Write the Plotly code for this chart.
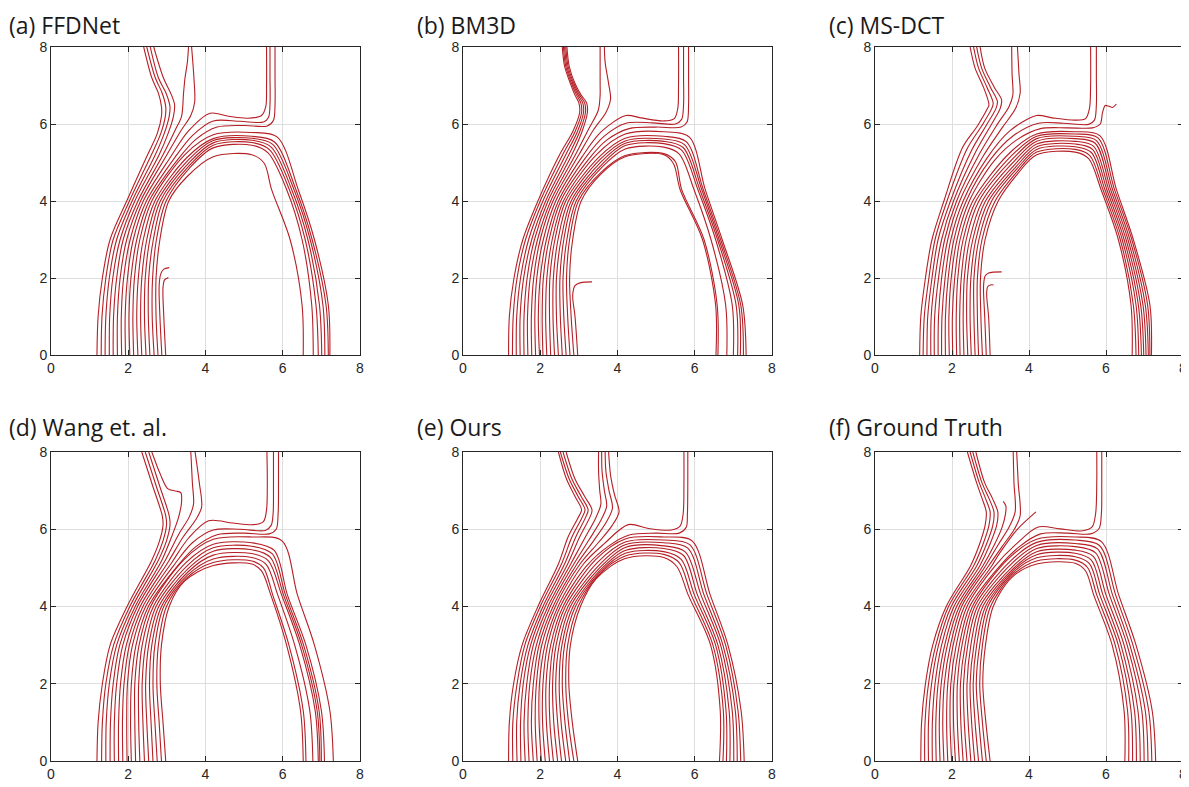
import plotly.graph_objects as go

# ---------------------------------------------------------------- data
# Every streamline starts at the bottom-left leg: x read at y = 0, 1, 2, 3, 4
LEG_Y = [0, 1, 2, 3, 4]
# Arch rows: [shoulder x, shoulder y, y at x=4.2, y at x=5.2, right-corner x, right-corner y,
#             x at y=4.3, x at y=3.0, x at y=1.3, x at y=0]

# (a) FFDNet
a_legs = [
    [2.77, 2.72, 2.72, 2.82, 3.05], [2.67, 2.62, 2.63, 2.73, 2.98], [2.56, 2.52, 2.53, 2.65, 2.90],
    [2.46, 2.42, 2.44, 2.56, 2.83], [2.35, 2.32, 2.35, 2.48, 2.76], [2.25, 2.22, 2.26, 2.39, 2.69],
    [2.14, 2.12, 2.16, 2.30, 2.61], [2.04, 2.02, 2.07, 2.22, 2.54], [1.93, 1.92, 1.98, 2.13, 2.47],
    [1.83, 1.82, 1.88, 2.05, 2.39], [1.72, 1.72, 1.79, 1.96, 2.32], [1.61, 1.62, 1.70, 1.87, 2.25],
    [1.51, 1.52, 1.60, 1.79, 2.17], [1.40, 1.42, 1.51, 1.70, 2.10], [1.30, 1.32, 1.42, 1.61, 2.03],
    [1.19, 1.22, 1.33, 1.53, 1.96],
]
a_arches = [
    [3.52, 4.63, 5.15, 5.20, 5.52, 4.98, 5.71, 6.19, 6.50, 6.53],
    [3.58, 4.85, 5.38, 5.45, 5.62, 5.25, 6.10, 6.50, 6.75, 6.79],
    [3.58, 4.92, 5.45, 5.52, 5.66, 5.33, 6.17, 6.58, 6.86, 6.92],
    [3.57, 4.99, 5.51, 5.58, 5.70, 5.40, 6.23, 6.65, 6.95, 7.01],
    [3.55, 5.06, 5.57, 5.63, 5.74, 5.47, 6.29, 6.71, 7.04, 7.09],
    [3.52, 5.13, 5.62, 5.68, 5.78, 5.54, 6.34, 6.76, 7.12, 7.18],
    [3.48, 5.22, 5.72, 5.78, 5.86, 5.66, 6.40, 6.82, 7.18, 7.22],
]
a_uppers = [
    [(3.3, 5.1), (3.75, 5.6), (4.3, 5.92), (5.0, 5.96), (5.6, 5.95), (5.76, 6.1), (5.8, 6.5), (5.8, 7.2), (5.8, 8)],
    [(3.2, 5.12), (3.66, 5.7), (4.2, 6.08), (4.9, 6.07), (5.5, 6.05), (5.63, 6.17), (5.67, 6.5), (5.67, 7.2), (5.67, 8)],
    [(3.1, 5.15), (3.56, 5.82), (4.12, 6.28), (4.6, 6.2), (5.1, 6.15), (5.45, 6.22), (5.56, 6.45), (5.58, 7.0), (5.58, 8)],
    [(3.0, 5.2), (3.36, 5.82), (3.62, 6.22), (3.72, 6.57), (3.70, 7.2), (3.64, 8)],
    [(2.9, 5.2), (3.22, 5.85), (3.38, 6.2), (3.43, 6.78), (3.47, 7.2), (3.53, 7.6), (3.56, 8)],
    [(2.8, 5.2), (3.03, 5.75), (3.17, 6.2), (3.2, 6.5), (3.12, 6.75), (2.91, 7.2), (2.66, 8)],
    [(2.7, 5.2), (2.93, 5.75), (3.06, 6.2), (3.08, 6.45), (2.98, 6.8), (2.78, 7.2), (2.57, 8)],
    [(2.6, 5.2), (2.84, 5.75), (2.96, 6.2), (2.97, 6.45), (2.88, 6.8), (2.70, 7.2), (2.48, 8)],
    [(2.5, 5.2), (2.75, 5.75), (2.86, 6.2), (2.86, 6.45), (2.78, 6.8), (2.61, 7.2), (2.40, 8)],
]
a_extras = [
    [(2.97, 0), (2.92, 1.0), (2.9, 1.75), (2.94, 1.95), (3.04, 2.01)],
    [(2.87, 0), (2.82, 1.0), (2.8, 1.8), (2.84, 2.1), (2.92, 2.23), (3.06, 2.27)],
]

# (b) BM3D
b_legs = [
    [2.87, 2.80, 2.76, 2.84, 3.06], [2.77, 2.71, 2.68, 2.76, 2.99], [2.67, 2.61, 2.59, 2.69, 2.93],
    [2.57, 2.52, 2.51, 2.61, 2.86], [2.47, 2.42, 2.42, 2.54, 2.80], [2.37, 2.33, 2.34, 2.46, 2.73],
    [2.27, 2.24, 2.25, 2.38, 2.66], [2.17, 2.14, 2.17, 2.31, 2.60], [2.07, 2.05, 2.08, 2.23, 2.53],
    [1.98, 1.95, 2.00, 2.16, 2.47], [1.88, 1.86, 1.91, 2.08, 2.40], [1.78, 1.77, 1.83, 2.00, 2.33],
    [1.68, 1.67, 1.74, 1.93, 2.27], [1.58, 1.58, 1.66, 1.85, 2.20], [1.48, 1.48, 1.57, 1.78, 2.14],
    [1.38, 1.39, 1.49, 1.70, 2.07], [1.28, 1.30, 1.40, 1.62, 2.00], [1.18, 1.20, 1.32, 1.55, 1.94],
]
b_arches = [
    [3.55, 4.68, 5.15, 5.20, 5.45, 4.97, 5.62, 6.20, 6.54, 6.55],
    [3.58, 4.75, 5.18, 5.23, 5.50, 5.02, 5.66, 6.24, 6.58, 6.60],
    [3.60, 4.88, 5.35, 5.40, 5.60, 5.22, 5.98, 6.42, 6.80, 6.83],
    [3.60, 4.95, 5.44, 5.49, 5.66, 5.32, 6.08, 6.54, 6.97, 7.00],
    [3.58, 5.02, 5.50, 5.55, 5.70, 5.39, 6.13, 6.59, 7.07, 7.11],
    [3.55, 5.08, 5.56, 5.61, 5.74, 5.46, 6.18, 6.63, 7.14, 7.18],
    [3.52, 5.14, 5.63, 5.68, 5.78, 5.54, 6.22, 6.67, 7.19, 7.26],
    [3.47, 5.22, 5.74, 5.80, 5.86, 5.66, 6.27, 6.71, 7.24, 7.33],
]
b_uppers = [
    [(3.25, 5.08), (3.72, 5.58), (4.3, 5.88), (5.0, 5.92), (5.65, 5.92), (5.8, 6.05), (5.84, 6.5), (5.84, 7.2), (5.84, 8)],
    [(3.17, 5.12), (3.65, 5.68), (4.22, 6.02), (4.9, 6.03), (5.5, 6.0), (5.66, 6.12), (5.71, 6.5), (5.71, 7.2), (5.71, 8)],
    [(3.09, 5.16), (3.58, 5.8), (4.22, 6.22), (4.6, 6.16), (5.2, 6.08), (5.47, 6.14), (5.56, 6.4), (5.58, 7.0), (5.58, 8)],
    [(3.0, 5.2), (3.38, 5.85), (3.7, 6.3), (3.82, 6.65), (3.77, 7.05), (3.68, 7.6), (3.66, 8)],
    [(2.91, 5.2), (3.27, 5.9), (3.5, 6.35), (3.55, 6.75), (3.55, 7.05), (3.55, 8)],
    [(2.82, 5.2), (3.08, 5.8), (3.22, 6.3), (3.2, 6.55), (3.06, 6.75), (2.9, 7.05), (2.75, 7.5), (2.69, 8)],
    [(2.74, 5.2), (3.02, 5.8), (3.17, 6.3), (3.15, 6.55), (3.02, 6.75), (2.87, 7.05), (2.72, 7.5), (2.66, 8)],
    [(2.66, 5.2), (2.96, 5.8), (3.12, 6.3), (3.1, 6.55), (2.98, 6.75), (2.84, 7.05), (2.69, 7.5), (2.63, 8)],
    [(2.58, 5.2), (2.90, 5.8), (3.07, 6.3), (3.05, 6.55), (2.94, 6.75), (2.81, 7.05), (2.66, 7.5), (2.60, 8)],
    [(2.50, 5.2), (2.84, 5.8), (3.02, 6.3), (3.0, 6.55), (2.90, 6.75), (2.78, 7.05), (2.63, 7.5), (2.57, 8)],
]
b_extras = [
    [(2.97, 0), (2.9, 1.0), (2.84, 1.55), (2.9, 1.8), (3.05, 1.88), (3.34, 1.9)],
]

# (c) MS-DCT
c_legs = [
    [2.79, 2.75, 2.74, 2.86, 3.20], [2.69, 2.66, 2.66, 2.78, 3.12], [2.60, 2.57, 2.57, 2.70, 3.03],
    [2.50, 2.47, 2.49, 2.62, 2.95], [2.41, 2.38, 2.40, 2.54, 2.87], [2.31, 2.29, 2.32, 2.46, 2.79],
    [2.21, 2.20, 2.24, 2.37, 2.70], [2.12, 2.11, 2.15, 2.29, 2.62], [2.02, 2.01, 2.07, 2.21, 2.54],
    [1.93, 1.92, 1.98, 2.13, 2.45], [1.83, 1.83, 1.90, 2.05, 2.37], [1.73, 1.74, 1.82, 1.97, 2.29],
    [1.64, 1.65, 1.73, 1.89, 2.20], [1.54, 1.55, 1.65, 1.81, 2.12], [1.45, 1.46, 1.56, 1.73, 2.04],
    [1.35, 1.37, 1.48, 1.64, 1.96], [1.25, 1.28, 1.40, 1.56, 1.87], [1.16, 1.19, 1.31, 1.48, 1.79],
]
c_arches = [
    [3.70, 4.70, 5.20, 5.27, 5.55, 5.10, 5.87, 6.32, 6.65, 6.68],
    [3.70, 4.77, 5.27, 5.34, 5.58, 5.18, 5.92, 6.37, 6.71, 6.78],
    [3.69, 4.84, 5.34, 5.41, 5.62, 5.26, 5.97, 6.42, 6.78, 6.85],
    [3.68, 4.91, 5.41, 5.48, 5.65, 5.34, 6.02, 6.47, 6.84, 6.92],
    [3.66, 4.98, 5.48, 5.55, 5.68, 5.42, 6.07, 6.52, 6.90, 6.98],
    [3.63, 5.05, 5.55, 5.62, 5.72, 5.50, 6.12, 6.57, 6.96, 7.04],
    [3.60, 5.12, 5.62, 5.68, 5.75, 5.57, 6.17, 6.62, 7.02, 7.10],
    [3.56, 5.19, 5.68, 5.74, 5.79, 5.64, 6.22, 6.67, 7.08, 7.14],
    [3.51, 5.26, 5.74, 5.80, 5.84, 5.70, 6.27, 6.71, 7.14, 7.18],
]
c_uppers = [
    [(3.1, 5.05), (3.7, 5.6), (4.3, 5.88), (5.0, 5.9), (5.65, 5.9), (5.85, 6.0), (5.91, 6.3), (5.98, 6.48),
     (6.08, 6.46), (6.17, 6.43), (6.27, 6.52)],
    [(3.0, 5.08), (3.6, 5.7), (4.25, 6.02), (4.9, 6.02), (5.55, 5.99), (5.7, 6.1), (5.75, 6.5), (5.75, 7.2), (5.75, 8)],
    [(2.9, 5.1), (3.5, 5.82), (4.2, 6.22), (4.6, 6.16), (5.2, 6.1), (5.47, 6.14), (5.57, 6.4), (5.6, 7.0), (5.6, 8)],
    [(2.8, 5.15), (3.3, 5.9), (3.65, 6.4), (3.77, 6.8), (3.74, 7.3), (3.70, 8)],
    [(2.7, 5.2), (3.15, 5.95), (3.48, 6.45), (3.58, 6.75), (3.56, 7.3), (3.55, 8)],
    [(2.6, 5.25), (3.0, 5.95), (3.25, 6.4), (3.29, 6.62), (3.1, 6.95), (2.85, 7.45), (2.73, 8)],
    [(2.5, 5.3), (2.88, 5.95), (3.14, 6.4), (3.18, 6.58), (3.0, 6.95), (2.77, 7.45), (2.64, 8)],
    [(2.39, 5.35), (2.77, 5.95), (3.03, 6.4), (3.07, 6.54), (2.91, 6.95), (2.69, 7.45), (2.56, 8)],
    [(2.28, 5.4), (2.66, 5.95), (2.92, 6.4), (2.96, 6.5), (2.82, 6.95), (2.60, 7.45), (2.47, 8)],
]
c_extras = [
    [(2.99, 0), (2.95, 1.0), (2.9, 1.6), (2.93, 1.78), (3.0, 1.82), (3.08, 1.82)],
    [(2.89, 0), (2.85, 1.0), (2.82, 1.8), (2.86, 2.05), (2.95, 2.13), (3.29, 2.16)],
]

# (d) Wang et. al.
d_legs = [
    [2.97, 2.90, 2.83, 2.86, 3.06], [2.86, 2.80, 2.74, 2.78, 2.99], [2.75, 2.69, 2.64, 2.69, 2.92],
    [2.64, 2.59, 2.55, 2.61, 2.86], [2.53, 2.48, 2.45, 2.53, 2.79], [2.42, 2.38, 2.36, 2.45, 2.72],
    [2.30, 2.27, 2.27, 2.36, 2.65], [2.19, 2.17, 2.17, 2.28, 2.58], [2.08, 2.06, 2.08, 2.20, 2.52],
    [1.97, 1.96, 1.98, 2.11, 2.45], [1.86, 1.85, 1.89, 2.03, 2.38], [1.75, 1.75, 1.80, 1.95, 2.31],
    [1.64, 1.64, 1.70, 1.86, 2.24], [1.53, 1.54, 1.61, 1.78, 2.18], [1.42, 1.43, 1.51, 1.70, 2.11],
    [1.31, 1.33, 1.42, 1.62, 2.04], [1.19, 1.22, 1.33, 1.53, 1.97],
]
d_arches = [
    [3.45, 4.65, 5.06, 5.10, 5.45, 4.92, 5.69, 6.10, 6.46, 6.53],
    [3.50, 4.73, 5.14, 5.18, 5.50, 5.00, 5.74, 6.16, 6.53, 6.60],
    [3.53, 4.81, 5.23, 5.27, 5.57, 5.09, 5.87, 6.31, 6.70, 6.78],
    [3.55, 4.90, 5.33, 5.37, 5.63, 5.18, 5.97, 6.44, 6.84, 6.92],
    [3.55, 4.98, 5.43, 5.47, 5.68, 5.27, 6.02, 6.49, 6.89, 6.96],
    [3.53, 5.06, 5.52, 5.56, 5.73, 5.36, 6.07, 6.54, 6.94, 7.00],
    [3.50, 5.14, 5.61, 5.65, 5.78, 5.45, 6.12, 6.60, 7.00, 7.08],
    [3.45, 5.22, 5.74, 5.80, 5.98, 5.70, 6.38, 6.82, 7.22, 7.31],
]
d_uppers = [
    [(3.3, 5.08), (3.75, 5.55), (4.3, 5.86), (5.0, 5.9), (5.65, 5.88), (5.83, 6.0), (5.88, 6.4), (5.89, 7.2), (5.89, 8)],
    [(3.22, 5.12), (3.66, 5.65), (4.2, 5.98), (4.9, 6.0), (5.55, 5.97), (5.7, 6.1), (5.75, 6.4), (5.76, 7.2), (5.76, 8)],
    [(3.14, 5.16), (3.57, 5.78), (4.08, 6.22), (4.7, 6.16), (5.25, 6.12), (5.5, 6.2), (5.58, 6.5), (5.6, 7.2), (5.59, 8)],
    [(3.05, 5.18), (3.42, 5.8), (3.75, 6.25), (3.9, 6.58), (3.84, 7.2), (3.73, 8)],
    [(2.96, 5.2), (3.3, 5.86), (3.58, 6.32), (3.69, 6.65), (3.66, 7.2), (3.62, 8)],
    [(2.87, 5.2), (3.14, 5.85), (3.3, 6.3), (3.38, 6.7), (3.36, 6.95), (3.22, 6.99), (3.02, 7.05), (2.82, 7.45), (2.61, 8)],
    [(2.78, 5.2), (2.99, 5.7), (3.08, 6.1), (3.06, 6.35), (2.82, 7.1), (2.53, 8)],
    [(2.70, 5.2), (2.9, 5.7), (2.99, 6.1), (2.97, 6.35), (2.73, 7.1), (2.44, 8)],
    [(2.61, 5.2), (2.81, 5.7), (2.9, 6.1), (2.88, 6.35), (2.64, 7.1), (2.35, 8)],
]
d_extras = []

# (e) Ours
e_legs = [
    [2.97, 2.83, 2.74, 2.78, 3.04], [2.87, 2.73, 2.66, 2.71, 2.98], [2.76, 2.64, 2.57, 2.63, 2.91],
    [2.66, 2.54, 2.49, 2.56, 2.85], [2.55, 2.45, 2.40, 2.49, 2.78], [2.45, 2.35, 2.32, 2.41, 2.72],
    [2.34, 2.25, 2.24, 2.34, 2.65], [2.24, 2.16, 2.15, 2.27, 2.59], [2.13, 2.06, 2.07, 2.19, 2.52],
    [2.03, 1.97, 1.98, 2.12, 2.46], [1.92, 1.87, 1.90, 2.04, 2.39], [1.82, 1.77, 1.82, 1.97, 2.33],
    [1.71, 1.68, 1.73, 1.90, 2.26], [1.61, 1.58, 1.65, 1.82, 2.20], [1.50, 1.49, 1.56, 1.75, 2.13],
    [1.40, 1.39, 1.48, 1.68, 2.07], [1.29, 1.29, 1.40, 1.60, 2.00], [1.18, 1.20, 1.31, 1.53, 1.94],
]
e_arches = [
    [3.45, 4.72, 5.24, 5.27, 5.54, 5.03, 5.83, 6.41, 6.66, 6.64],
    [3.50, 4.80, 5.31, 5.35, 5.60, 5.13, 5.91, 6.47, 6.74, 6.73],
    [3.53, 4.87, 5.38, 5.42, 5.65, 5.22, 5.99, 6.54, 6.81, 6.82],
    [3.55, 4.94, 5.45, 5.50, 5.71, 5.32, 6.07, 6.60, 6.89, 6.91],
    [3.55, 5.01, 5.53, 5.57, 5.76, 5.41, 6.16, 6.67, 6.97, 7.01],
    [3.53, 5.08, 5.60, 5.65, 5.82, 5.51, 6.24, 6.73, 7.05, 7.10],
    [3.49, 5.15, 5.67, 5.72, 5.87, 5.60, 6.32, 6.80, 7.12, 7.19],
    [3.44, 5.22, 5.75, 5.80, 5.93, 5.70, 6.40, 6.86, 7.20, 7.28],
]
e_uppers = [
    [(3.2, 5.05), (3.75, 5.55), (4.3, 5.85), (5.0, 5.9), (5.6, 5.9), (5.78, 6.05), (5.81, 6.4), (5.82, 7.2), (5.82, 8)],
    [(3.12, 5.1), (3.65, 5.62), (4.28, 6.12), (4.8, 6.02), (5.4, 5.98), (5.62, 6.08), (5.70, 6.4), (5.72, 7.2), (5.72, 8)],
    [(3.03, 5.1), (3.5, 5.65), (3.85, 6.08), (4.04, 6.45), (3.92, 6.9), (3.82, 7.4), (3.77, 8)],
    [(2.95, 5.1), (3.38, 5.7), (3.72, 6.2), (3.87, 6.55), (3.78, 7.0), (3.70, 7.5), (3.68, 8)],
    [(2.87, 5.1), (3.26, 5.72), (3.58, 6.25), (3.72, 6.6), (3.66, 7.0), (3.6, 7.5), (3.59, 8)],
    [(2.79, 5.1), (3.14, 5.75), (3.44, 6.3), (3.57, 6.65), (3.54, 7.0), (3.51, 7.5), (3.51, 8)],
    [(2.71, 5.1), (3.02, 5.8), (3.28, 6.3), (3.34, 6.5), (3.15, 6.85), (2.9, 7.3), (2.67, 8)],
    [(2.63, 5.1), (2.92, 5.8), (3.17, 6.3), (3.24, 6.5), (3.06, 6.85), (2.82, 7.3), (2.59, 8)],
    [(2.55, 5.1), (2.82, 5.8), (3.08, 6.3), (3.16, 6.5), (2.98, 6.85), (2.75, 7.3), (2.52, 8)],
    [(2.47, 5.1), (2.72, 5.8), (2.98, 6.3), (3.07, 6.5), (2.90, 6.85), (2.68, 7.3), (2.47, 8)],
]
e_extras = []

# (f) Ground Truth
f_legs = [
    [2.99, 2.88, 2.80, 2.87, 3.07], [2.89, 2.79, 2.72, 2.79, 3.00], [2.79, 2.70, 2.63, 2.72, 2.93],
    [2.69, 2.60, 2.55, 2.64, 2.87], [2.59, 2.51, 2.47, 2.57, 2.80], [2.49, 2.42, 2.39, 2.49, 2.73],
    [2.39, 2.32, 2.30, 2.41, 2.66], [2.29, 2.23, 2.22, 2.34, 2.59], [2.19, 2.14, 2.14, 2.26, 2.53],
    [2.09, 2.04, 2.05, 2.19, 2.46], [1.99, 1.95, 1.97, 2.11, 2.39], [1.89, 1.86, 1.89, 2.03, 2.32],
    [1.79, 1.76, 1.80, 1.96, 2.25], [1.69, 1.67, 1.72, 1.88, 2.19], [1.59, 1.58, 1.64, 1.81, 2.12],
    [1.49, 1.49, 1.56, 1.73, 2.05], [1.39, 1.39, 1.47, 1.65, 1.98], [1.29, 1.30, 1.39, 1.58, 1.91],
    [1.19, 1.21, 1.31, 1.50, 1.85],
]
f_arches = [
    [3.55, 4.75, 5.10, 5.12, 5.47, 4.92, 5.68, 6.16, 6.47, 6.49],
    [3.57, 4.81, 5.18, 5.20, 5.52, 5.01, 5.76, 6.24, 6.56, 6.59],
    [3.59, 4.88, 5.26, 5.29, 5.57, 5.11, 5.84, 6.32, 6.65, 6.69],
    [3.60, 4.94, 5.34, 5.38, 5.62, 5.20, 5.92, 6.39, 6.74, 6.79],
    [3.61, 5.00, 5.42, 5.46, 5.67, 5.30, 6.00, 6.47, 6.83, 6.89],
    [3.60, 5.06, 5.50, 5.55, 5.73, 5.39, 6.09, 6.55, 6.93, 6.99],
    [3.57, 5.13, 5.58, 5.63, 5.78, 5.49, 6.17, 6.62, 7.02, 7.09],
    [3.53, 5.19, 5.66, 5.72, 5.83, 5.58, 6.25, 6.70, 7.11, 7.19],
    [3.48, 5.25, 5.74, 5.80, 5.88, 5.68, 6.33, 6.78, 7.20, 7.29],
]
f_uppers = [
    [(3.2, 5.0), (3.75, 5.55), (4.3, 5.88), (5.0, 5.9), (5.6, 5.88), (5.82, 6.02), (5.88, 6.4), (5.89, 7.2), (5.89, 8)],
    [(3.12, 5.05), (3.65, 5.6), (4.24, 6.06), (4.8, 6.01), (5.4, 5.96), (5.64, 6.06), (5.73, 6.4), (5.76, 7.2), (5.76, 8)],
    [(3.03, 5.05), (3.25, 5.4), (3.68, 5.98), (4.18, 6.45)],
    [(2.95, 5.05), (3.3, 5.55), (3.62, 6.0), (3.77, 6.35), (3.72, 7.2), (3.68, 8)],
    [(2.87, 5.05), (3.2, 5.6), (3.48, 6.05), (3.64, 6.45), (3.61, 7.2), (3.59, 8)],
    [(2.8, 5.05), (3.1, 5.6), (3.3, 6.05), (3.39, 6.4), (3.40, 6.6), (3.33, 6.72)],
    [(2.72, 5.05), (2.98, 5.6), (3.16, 6.1), (3.19, 6.45), (3.05, 6.8), (2.85, 7.2), (2.62, 8)],
    [(2.64, 5.05), (2.89, 5.6), (3.06, 6.1), (3.09, 6.45), (2.96, 6.8), (2.78, 7.2), (2.54, 8)],
    [(2.56, 5.05), (2.80, 5.6), (2.96, 6.1), (2.99, 6.45), (2.87, 6.8), (2.71, 7.2), (2.47, 8)],
    [(2.48, 5.05), (2.71, 5.6), (2.86, 6.1), (2.89, 6.45), (2.78, 6.8), (2.64, 7.2), (2.40, 8)],
]
f_extras = []

panel_titles = ["(a) FFDNet", "(b) BM3D", "(c) MS-DCT", "(d) Wang et. al.", "(e) Ours", "(f) Ground Truth"]
tick_vals = [0, 2, 4, 6, 8]
axis_range = [0, 8]

# ---------------------------------------------------------------- build
panels = [
    (a_legs, a_arches, a_uppers, a_extras),
    (b_legs, b_arches, b_uppers, b_extras),
    (c_legs, c_arches, c_uppers, c_extras),
    (d_legs, d_arches, d_uppers, d_extras),
    (e_legs, e_arches, e_uppers, e_extras),
    (f_legs, f_arches, f_uppers, f_extras),
]


def arch_path(row):
    p4x, p4y, ya, yb, p6x, p6y, r43, r3, r13, rb = row
    return [(p4x, p4y), (4.2, ya), (5.2, yb), (p6x, p6y), (r43, 4.3), (r3, 3.0), (r13, 1.3), (rb, 0.0)]


def panel_lines(legs, arches, uppers, extras):
    lines = []
    for i, leg in enumerate(legs):
        pts = list(zip(leg, LEG_Y))
        if i < len(arches):
            pts += arch_path(arches[i])
        else:
            pts += uppers[i - len(arches)]
        lines.append(pts)
    return lines + list(extras)


# The page body adds an 8 px margin around the figure, so the figure is
# 8 px smaller than the window and every position is shifted by 8 px.
OFF = 8
W, H = 1189 - OFF, 787 - OFF
col_px = [(51, 360), (463, 772), (875, 1183)]
row_px = [(47, 355), (452, 761)]
title_x_px = [8, 416, 828]
title_top_px = [8, 410]

LINE_COLOR = "#B51F25"
AX_COLOR = "#262626"

fig = go.Figure()
layout_axes = {}
annotations = []
for idx, (legs, arches, uppers, extras) in enumerate(panels):
    r, c = divmod(idx, 3)
    n = idx + 1
    xa = "x" if n == 1 else f"x{n}"
    ya = "y" if n == 1 else f"y{n}"
    for pts in panel_lines(legs, arches, uppers, extras):
        fig.add_trace(go.Scatter(
            x=[p[0] for p in pts], y=[p[1] for p in pts], mode="lines",
            line=dict(color=LINE_COLOR, width=1.1, shape="spline", smoothing=0.9),
            xaxis=xa, yaxis=ya, showlegend=False, hoverinfo="skip"))
    common = dict(range=axis_range, tickvals=tick_vals, ticks="inside", ticklen=5, tickwidth=1,
                  tickcolor=AX_COLOR, showline=True, linecolor=AX_COLOR, linewidth=1,
                  mirror="allticks", showgrid=True, gridcolor="#DEDEDE", gridwidth=1,
                  zeroline=False, fixedrange=True, automargin=False,
                  tickfont=dict(family="Liberation Sans, Arial, sans-serif", size=14, color=AX_COLOR))
    x0, x1 = col_px[c]
    y0, y1 = row_px[r]
    layout_axes["xaxis" if n == 1 else f"xaxis{n}"] = dict(
        common, domain=[(x0 - OFF) / W, (x1 - OFF) / W], anchor=ya)
    layout_axes["yaxis" if n == 1 else f"yaxis{n}"] = dict(
        common, domain=[1 - (y1 - OFF) / H, 1 - (y0 - OFF) / H], anchor=xa)
    annotations.append(dict(
        text=panel_titles[idx], x=(title_x_px[c] - OFF) / W, y=1 - (title_top_px[r] - OFF) / H,
        xref="paper", yref="paper", xanchor="left", yanchor="top", showarrow=False, borderpad=0,
        font=dict(family="Open Sans, Noto Sans, sans-serif", size=23, color="#1A1A1A")))

fig.update_layout(
    width=W, height=H, margin=dict(l=0, r=0, t=0, b=0, autoexpand=False),
    paper_bgcolor="white", plot_bgcolor="white",
    annotations=annotations, showlegend=False, **layout_axes)

fig.write_html("out.html")
